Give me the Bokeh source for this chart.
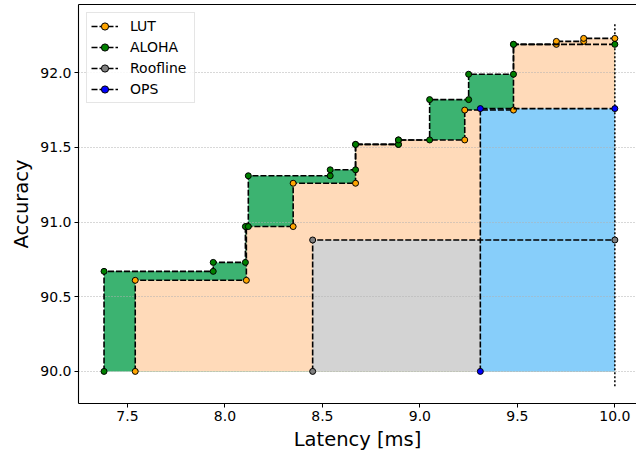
from bokeh.plotting import figure
from bokeh.models import Range1d, FixedTicker, LinearAxis, Legend, LegendItem
from bokeh.embed import file_html
from bokeh.resources import INLINE

# Accuracy floor and latency budget shared by all curves
BASELINE = 90.0
BUDGET = 10.0

# Pareto points (latency in ms, accuracy) per search method
lut_latency = [7.54, 8.11, 8.35, 8.67, 8.89, 9.23, 9.48, 9.70, 9.84]
lut_accuracy = [90.61, 90.97, 91.26, 91.52, 91.55, 91.75, 92.19, 92.21, 92.23]

aloha_latency = [7.38, 7.94, 8.105, 8.12, 8.54, 8.67, 8.89, 9.05, 9.25, 9.48]
aloha_accuracy = [90.67, 90.73, 90.97, 91.31, 91.35, 91.52, 91.55, 91.82, 91.99, 92.19]

roofline_latency = [8.45]
roofline_accuracy = [90.88]

ops_latency = [9.31]
ops_accuracy = [91.76]

x_ticks = [7.5, 8.0, 8.5, 9.0, 9.5, 10.0]
x_tick_labels = ["7.5", "8.0", "8.5", "9.0", "9.5", "10.0"]
y_ticks = [90.0, 90.5, 91.0, 91.5, 92.0]
y_tick_labels = ["90.0", "90.5", "91.0", "91.5", "92.0"]

# budget marker extent
budget_line_span = [89.9, 92.33]

FONT = "DejaVu Sans"


def staircase(xs, ys, x_end=BUDGET, base=BASELINE):
    """Vertices of a post-step curve starting on the baseline."""
    px, py = [xs[0]], [base]
    for i, (x, y) in enumerate(zip(xs, ys)):
        nxt = xs[i + 1] if i + 1 < len(xs) else x_end
        px += [x, nxt]
        py += [y, y]
    return px, py


series = {
    "LUT": (lut_latency, lut_accuracy, "orange", "#FFDAB9"),
    "ALOHA": (aloha_latency, aloha_accuracy, "green", "#3CB371"),
    "Roofline": (roofline_latency, roofline_accuracy, "gray", "#D3D3D3"),
    "OPS": (ops_latency, ops_accuracy, "blue", "#87CEFA"),
}

p = figure(
    width=636, height=459,
    x_range=Range1d(7.249, 10.111), y_range=Range1d(89.785, 92.457),
    output_backend="svg", toolbar_location=None,
    min_border_left=78, min_border_right=0, min_border_top=4, min_border_bottom=56,
)
p.outline_line_color = None
p.background_fill_color = "white"
p.border_fill_color = "white"

# filled areas under each staircase, beneath grid and lines
for name in ["ALOHA", "LUT", "Roofline", "OPS"]:
    xs, ys, _, fill = series[name]
    px, py = staircase(xs, ys)
    p.patch(px + [BUDGET], py + [BASELINE], fill_color=fill, line_color=None, level="image")

# latency budget
p.line([BUDGET, BUDGET], budget_line_span, line_color="black", line_width=1.5, line_dash="2 2")

items = []
for name in ["LUT", "ALOHA", "Roofline", "OPS"]:
    xs, ys, mcolor, _ = series[name]
    px, py = staircase(xs, ys)
    lr = p.line(px, py, line_color="black", line_width=1.6, line_dash="6 2")
    sr = p.scatter(px, py, size=6, fill_color=mcolor, line_color="black", line_width=1)
    items.append(LegendItem(label=name, renderers=[lr, sr]))

legend = Legend(
    items=items, location="top_left", margin=8, padding=4,
    glyph_width=27, glyph_height=18, label_height=18, label_width=60,
    label_standoff=12, spacing=3,
    label_text_font=FONT, label_text_font_size="14px", label_text_color="black",
    border_line_color="#cccccc", border_line_width=1,
    background_fill_color="white", background_fill_alpha=0.85,
)
p.add_layout(legend)

# axes
p.xaxis.ticker = FixedTicker(ticks=x_ticks)
p.xaxis.major_label_overrides = dict(zip(x_ticks, x_tick_labels))
p.yaxis.ticker = FixedTicker(ticks=y_ticks)
p.yaxis.major_label_overrides = dict(zip(y_ticks, y_tick_labels))
p.xaxis.axis_label = "Latency [ms]"
p.yaxis.axis_label = "Accuracy"
for ax in (p.xaxis, p.yaxis):
    ax.axis_line_color = "black"
    ax.axis_line_width = 1.1
    ax.major_tick_line_color = "black"
    ax.major_tick_out = 4
    ax.major_tick_in = 0
    ax.minor_tick_line_color = None
    ax.major_label_text_font = FONT
    ax.major_label_text_font_size = "14px"
    ax.major_label_text_color = "black"
    ax.major_label_standoff = 3
    ax.axis_label_text_font = FONT
    ax.axis_label_text_font_size = "19.5px"
    ax.axis_label_text_font_style = "normal"
    ax.axis_label_text_color = "black"
    ax.axis_label_standoff = 4

top = LinearAxis(ticker=FixedTicker(ticks=[]), axis_line_color="black", axis_line_width=1.1,
                 major_tick_line_color=None, minor_tick_line_color=None,
                 major_label_text_font_size="0px")
p.add_layout(top, "above")

p.xgrid.visible = False
p.ygrid.ticker = FixedTicker(ticks=y_ticks)
p.ygrid.grid_line_color = "#b0b0b0"
p.ygrid.grid_line_dash = "1 2"
p.ygrid.grid_line_width = 1
p.ygrid.level = "underlay"

open("out.html", "w").write(file_html(p, INLINE))
